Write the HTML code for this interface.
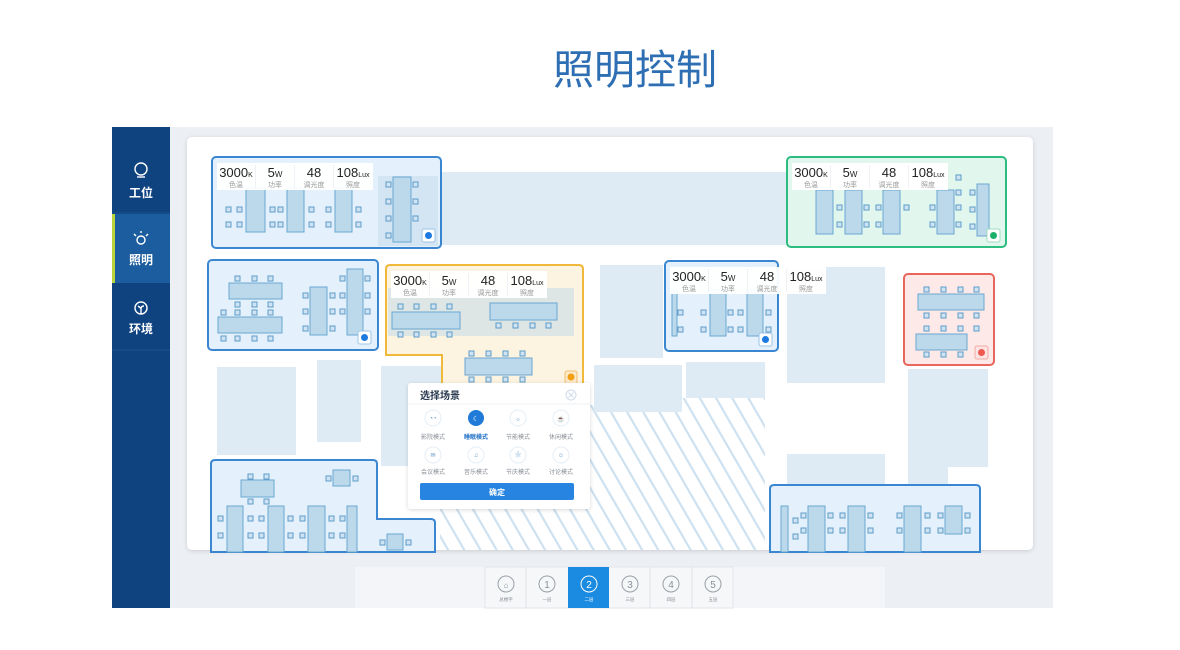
<!DOCTYPE html>
<html><head><meta charset="utf-8"><style>
html,body{margin:0;padding:0;background:#fff;width:1180px;height:650px;overflow:hidden;font-family:"Liberation Sans","Noto Sans CJK SC",sans-serif}
.t{position:absolute;left:553px;top:38px;font-size:41px;color:#2e6fb4;letter-spacing:0;font-family:"Noto Sans CJK SC","WenQuanYi Zen Hei",sans-serif;line-height:56px}
svg{position:absolute;left:0;top:0}
text{font-family:"Liberation Sans","Noto Sans CJK SC",sans-serif}
</style></head><body>
<div class="t">照明控制</div>
<svg width="1180" height="650" viewBox="0 0 1180 650">
<defs>
<pattern id="h" width="14" height="14" patternUnits="userSpaceOnUse" patternTransform="rotate(-30)">
<rect width="14" height="14" fill="#fff"/><rect width="2.2" height="14" fill="#cde1f0"/></pattern>
<filter id="sh" x="-10%" y="-10%" width="120%" height="130%"><feDropShadow dx="0" dy="1" stdDeviation="2" flood-color="#000" flood-opacity="0.15"/></filter>
<g id="tip">
<rect x="0" y="0" width="156" height="27" fill="#fff" opacity="0.95"/>
<g fill="#eef2f6"><rect x="38" y="2" width="1" height="23"/><rect x="77" y="2" width="1" height="23"/><rect x="116" y="2" width="1" height="23"/></g>
<g font-size="13" fill="#222" text-anchor="middle">
<text x="19" y="14">3000<tspan font-size="7">K</tspan></text>
<text x="58" y="14">5<tspan font-size="8">W</tspan></text>
<text x="97" y="14">48</text>
<text x="136" y="14">108<tspan font-size="7">Lux</tspan></text></g>
<g font-size="7" fill="#999" text-anchor="middle" font-family="Noto Sans CJK SC,sans-serif">
<text x="19" y="24">色温</text><text x="58" y="24">功率</text><text x="97" y="24">调光度</text><text x="136" y="24">照度</text></g>
</g>
</defs>
<!-- app frame -->
<rect x="112" y="127" width="941" height="481" fill="#eceff4"/>
<rect x="112" y="127" width="58" height="481" fill="#0e4380"/>
<rect x="112" y="214" width="58" height="69" fill="#1b5d9f"/>
<rect x="112" y="214" width="3" height="69" fill="#b8d43a"/>
<line x1="112" y1="213" x2="170" y2="213" stroke="#1c5190"/>
<line x1="112" y1="350" x2="170" y2="350" stroke="#1c5190"/>
<g fill="none" stroke="#fff" stroke-width="1.4">
<circle cx="141" cy="169" r="6"/><line x1="137" y1="177" x2="145" y2="177"/>
<circle cx="141" cy="240" r="4"/><line x1="134" y1="234" x2="136" y2="236"/><line x1="148" y1="234" x2="146" y2="236"/><line x1="141" y1="231" x2="141" y2="233"/>
<circle cx="141" cy="308" r="6"/><path d="M141 314 v-5 M138 306 q3 2 3 3 q0-3 3-3"/>
</g>
<g fill="#fff" font-size="12" font-weight="bold" text-anchor="middle" font-family="Noto Sans CJK SC,sans-serif">
<text x="141" y="197">工位</text><text x="141" y="264">照明</text><text x="141" y="333">环境</text></g>
<!-- card -->
<rect x="187" y="137" width="846" height="413" rx="5" fill="#fff" filter="url(#sh)"/>
<g fill="#deebf5">
<rect x="441" y="172" width="345" height="73"/>
<rect x="217" y="367" width="79" height="88"/>
<rect x="317" y="360" width="44" height="82"/>
<rect x="381" y="366" width="60" height="100"/>
<rect x="600" y="265" width="63" height="93"/>
<rect x="594" y="365" width="88" height="47"/>
<rect x="686" y="362" width="79" height="36"/>
<rect x="787" y="267" width="98" height="116"/>
<rect x="908" y="369" width="80" height="98"/>
<rect x="787" y="454" width="98" height="40"/>
<rect x="908" y="467" width="40" height="28"/>
</g>
<path d="M440 405 L594 405 L594 412 L682 412 L682 398 L765 398 L765 550 L440 550 Z" fill="url(#h)"/>
<!-- Rooms -->
<rect x="212" y="157" width="229" height="91" rx="4" fill="#e4f1fc" stroke="#3a86d1" stroke-width="2"/>
<rect x="378" y="176" width="60" height="70" fill="#d3e5f3"/>
<rect x="208" y="260" width="170" height="90" rx="4" fill="#e4f1fc" stroke="#3a86d1" stroke-width="2"/>
<path d="M390 265 H579 Q583 265 583 269 V390 H442 V355 H386 V269 Q386 265 390 265 Z" fill="#fdf3e1" stroke="#f0b93a" stroke-width="2"/>
<rect x="388" y="288" width="186" height="48" fill="#dde6e4"/>
<rect x="665" y="261" width="113" height="90" rx="4" fill="#e4f1fc" stroke="#3a86d1" stroke-width="2"/>
<rect x="787" y="157" width="219" height="90" rx="4" fill="#e1f6ed" stroke="#2ebd80" stroke-width="2"/>
<rect x="904" y="274" width="90" height="91" rx="4" fill="#fde9e7" stroke="#e8665c" stroke-width="2"/>
<path d="M215 460 H373 Q377 460 377 464 V519 H431 Q435 519 435 523 V552 H211 V464 Q211 460 215 460 Z" fill="#e4f1fc" stroke="#3a86d1" stroke-width="2"/>
<path d="M774 485 H976 Q980 485 980 489 V552 H770 V489 Q770 485 774 485 Z" fill="#e4f1fc" stroke="#3a86d1" stroke-width="2"/>
<!-- tables -->
<g fill="#bcd9ec" stroke="#6aa6d0" stroke-width="1">
<rect x="246" y="188" width="19" height="44"/><rect x="287" y="188" width="17" height="44"/><rect x="335" y="188" width="17" height="44"/><rect x="393" y="177" width="18" height="65"/>
<rect x="229" y="283" width="53" height="16"/><rect x="218" y="317" width="64" height="16"/><rect x="310" y="287" width="17" height="48"/><rect x="347" y="269" width="16" height="66"/>
<rect x="392" y="312" width="68" height="17"/><rect x="490" y="303" width="67" height="17"/><rect x="465" y="358" width="67" height="17"/>
<rect x="710" y="290" width="16" height="46"/><rect x="747" y="290" width="16" height="46"/><rect x="672" y="290" width="5" height="46"/>
<rect x="816" y="190" width="17" height="44"/><rect x="845" y="190" width="17" height="44"/><rect x="883" y="190" width="17" height="44"/><rect x="937" y="190" width="17" height="44"/><rect x="977" y="184" width="12" height="52"/>
<rect x="918" y="294" width="66" height="16"/><rect x="916" y="334" width="51" height="16"/>
<rect x="241" y="480" width="33" height="17"/><rect x="333" y="470" width="17" height="16"/>
<rect x="227" y="506" width="16" height="46"/><rect x="268" y="506" width="16" height="46"/><rect x="308" y="506" width="17" height="46"/><rect x="347" y="506" width="10" height="46"/><rect x="387" y="534" width="16" height="16"/>
<rect x="781" y="506" width="7" height="46"/><rect x="808" y="506" width="17" height="46"/><rect x="848" y="506" width="17" height="46"/><rect x="904" y="506" width="17" height="46"/><rect x="945" y="506" width="17" height="28"/>
</g>
<g fill="#cfe3f2" stroke="#5c9cc9" stroke-width="1">
<rect x="226" y="207" width="5" height="5"/><rect x="226" y="222" width="5" height="5"/><rect x="237" y="207" width="5" height="5"/><rect x="237" y="222" width="5" height="5"/><rect x="270" y="207" width="5" height="5"/><rect x="270" y="222" width="5" height="5"/><rect x="278" y="207" width="5" height="5"/><rect x="278" y="222" width="5" height="5"/><rect x="309" y="207" width="5" height="5"/><rect x="309" y="222" width="5" height="5"/><rect x="326" y="207" width="5" height="5"/><rect x="326" y="222" width="5" height="5"/><rect x="356" y="207" width="5" height="5"/><rect x="356" y="222" width="5" height="5"/>
<rect x="386" y="182" width="5" height="5"/><rect x="386" y="199" width="5" height="5"/><rect x="386" y="216" width="5" height="5"/><rect x="386" y="233" width="5" height="5"/><rect x="413" y="182" width="5" height="5"/><rect x="413" y="199" width="5" height="5"/><rect x="413" y="216" width="5" height="5"/>
<rect x="235" y="276" width="5" height="5"/><rect x="252" y="276" width="5" height="5"/><rect x="268" y="276" width="5" height="5"/><rect x="235" y="302" width="5" height="5"/><rect x="252" y="302" width="5" height="5"/><rect x="268" y="302" width="5" height="5"/><rect x="221" y="310" width="5" height="5"/><rect x="235" y="310" width="5" height="5"/><rect x="252" y="310" width="5" height="5"/><rect x="268" y="310" width="5" height="5"/><rect x="221" y="336" width="5" height="5"/><rect x="235" y="336" width="5" height="5"/><rect x="252" y="336" width="5" height="5"/><rect x="268" y="336" width="5" height="5"/>
<rect x="303" y="293" width="5" height="5"/><rect x="303" y="309" width="5" height="5"/><rect x="303" y="326" width="5" height="5"/><rect x="330" y="293" width="5" height="5"/><rect x="330" y="309" width="5" height="5"/><rect x="330" y="326" width="5" height="5"/><rect x="340" y="276" width="5" height="5"/><rect x="340" y="293" width="5" height="5"/><rect x="340" y="309" width="5" height="5"/><rect x="365" y="276" width="5" height="5"/><rect x="365" y="293" width="5" height="5"/><rect x="365" y="309" width="5" height="5"/>
<rect x="398" y="304" width="5" height="5"/><rect x="414" y="304" width="5" height="5"/><rect x="431" y="304" width="5" height="5"/><rect x="447" y="304" width="5" height="5"/><rect x="398" y="332" width="5" height="5"/><rect x="414" y="332" width="5" height="5"/><rect x="431" y="332" width="5" height="5"/><rect x="447" y="332" width="5" height="5"/>
<rect x="496" y="323" width="5" height="5"/><rect x="513" y="323" width="5" height="5"/><rect x="530" y="323" width="5" height="5"/><rect x="546" y="323" width="5" height="5"/>
<rect x="469" y="351" width="5" height="5"/><rect x="486" y="351" width="5" height="5"/><rect x="503" y="351" width="5" height="5"/><rect x="520" y="351" width="5" height="5"/><rect x="469" y="377" width="5" height="5"/><rect x="486" y="377" width="5" height="5"/><rect x="503" y="377" width="5" height="5"/><rect x="520" y="377" width="5" height="5"/>
<rect x="678" y="310" width="5" height="5"/><rect x="678" y="327" width="5" height="5"/><rect x="701" y="310" width="5" height="5"/><rect x="701" y="327" width="5" height="5"/><rect x="728" y="310" width="5" height="5"/><rect x="738" y="310" width="5" height="5"/><rect x="728" y="327" width="5" height="5"/><rect x="738" y="327" width="5" height="5"/><rect x="766" y="310" width="5" height="5"/><rect x="766" y="327" width="5" height="5"/>
<rect x="837" y="205" width="5" height="5"/><rect x="837" y="222" width="5" height="5"/><rect x="864" y="205" width="5" height="5"/><rect x="864" y="222" width="5" height="5"/><rect x="876" y="205" width="5" height="5"/><rect x="876" y="222" width="5" height="5"/><rect x="904" y="205" width="5" height="5"/><rect x="930" y="205" width="5" height="5"/><rect x="930" y="222" width="5" height="5"/><rect x="956" y="175" width="5" height="5"/><rect x="956" y="190" width="5" height="5"/><rect x="956" y="205" width="5" height="5"/><rect x="956" y="222" width="5" height="5"/><rect x="970" y="190" width="5" height="5"/><rect x="970" y="207" width="5" height="5"/><rect x="970" y="224" width="5" height="5"/>
<rect x="924" y="287" width="5" height="5"/><rect x="941" y="287" width="5" height="5"/><rect x="958" y="287" width="5" height="5"/><rect x="974" y="287" width="5" height="5"/><rect x="924" y="313" width="5" height="5"/><rect x="941" y="313" width="5" height="5"/><rect x="958" y="313" width="5" height="5"/><rect x="974" y="313" width="5" height="5"/><rect x="924" y="326" width="5" height="5"/><rect x="941" y="326" width="5" height="5"/><rect x="958" y="326" width="5" height="5"/><rect x="974" y="326" width="5" height="5"/><rect x="924" y="352" width="5" height="5"/><rect x="941" y="352" width="5" height="5"/><rect x="958" y="352" width="5" height="5"/>
<rect x="248" y="474" width="5" height="5"/><rect x="264" y="474" width="5" height="5"/><rect x="248" y="499" width="5" height="5"/><rect x="264" y="499" width="5" height="5"/><rect x="326" y="476" width="5" height="5"/><rect x="353" y="476" width="5" height="5"/>
<rect x="218" y="516" width="5" height="5"/><rect x="218" y="533" width="5" height="5"/><rect x="248" y="516" width="5" height="5"/><rect x="259" y="516" width="5" height="5"/><rect x="248" y="533" width="5" height="5"/><rect x="259" y="533" width="5" height="5"/><rect x="288" y="516" width="5" height="5"/><rect x="300" y="516" width="5" height="5"/><rect x="288" y="533" width="5" height="5"/><rect x="300" y="533" width="5" height="5"/><rect x="329" y="516" width="5" height="5"/><rect x="340" y="516" width="5" height="5"/><rect x="329" y="533" width="5" height="5"/><rect x="340" y="533" width="5" height="5"/><rect x="380" y="540" width="5" height="5"/><rect x="406" y="540" width="5" height="5"/>
<rect x="793" y="518" width="5" height="5"/><rect x="793" y="534" width="5" height="5"/><rect x="801" y="513" width="5" height="5"/><rect x="801" y="528" width="5" height="5"/><rect x="828" y="513" width="5" height="5"/><rect x="828" y="528" width="5" height="5"/><rect x="840" y="513" width="5" height="5"/><rect x="840" y="528" width="5" height="5"/><rect x="868" y="513" width="5" height="5"/><rect x="868" y="528" width="5" height="5"/><rect x="897" y="513" width="5" height="5"/><rect x="897" y="528" width="5" height="5"/><rect x="925" y="513" width="5" height="5"/><rect x="925" y="528" width="5" height="5"/><rect x="938" y="513" width="5" height="5"/><rect x="938" y="528" width="5" height="5"/><rect x="965" y="513" width="5" height="5"/><rect x="965" y="528" width="5" height="5"/>
</g>
<rect x="422" y="229" width="13" height="13" rx="2" fill="#fff" stroke="#9cc3e4"/><circle cx="428.5" cy="235.5" r="3.5" fill="#1e7ae0"/>
<rect x="358" y="331" width="13" height="13" rx="2" fill="#fff" stroke="#9cc3e4"/><circle cx="364.5" cy="337.5" r="3.5" fill="#1e7ae0"/>
<rect x="759" y="333" width="13" height="13" rx="2" fill="#fff" stroke="#9cc3e4"/><circle cx="765.5" cy="339.5" r="3.5" fill="#1e7ae0"/>
<rect x="987" y="229" width="13" height="13" rx="2" fill="#fff" stroke="#9fdcc0"/><circle cx="993.5" cy="235.5" r="3.5" fill="#1ab06a"/>
<rect x="975" y="346" width="13" height="13" rx="2" fill="#fde3e1" stroke="#f0aaa4"/><circle cx="981.5" cy="352.5" r="3.5" fill="#ee5a50"/>
<rect x="565" y="371" width="12" height="13" rx="2" fill="#fde8c8" stroke="#f0c070"/><circle cx="571" cy="377" r="3.5" fill="#f2a012"/>
<use href="#tip" x="217" y="163"/>
<use href="#tip" x="391" y="271"/>
<use href="#tip" x="670" y="267"/>
<use href="#tip" x="792" y="163"/>
<!-- popup -->
<rect x="408" y="383" width="182" height="126" rx="3" fill="#fff" filter="url(#sh)"/>
<line x1="408" y1="404" x2="590" y2="404" stroke="#eceff3"/>
<text x="420" y="399" font-size="10" fill="#2a3a50" font-weight="bold" font-family="Noto Sans CJK SC,sans-serif">选择场景</text>
<circle cx="571" cy="395" r="5" fill="none" stroke="#ccdbe8"/><path d="M568.5 392.5 l5 5 M573.5 392.5 l-5 5" stroke="#ccdbe8"/>
<g fill="#fff" stroke="#e5eef6">
<circle cx="433" cy="418" r="8"/><circle cx="518" cy="418" r="8"/><circle cx="561" cy="418" r="8"/>
<circle cx="433" cy="455" r="8"/><circle cx="476" cy="455" r="8"/><circle cx="518" cy="455" r="8"/><circle cx="561" cy="455" r="8"/></g>
<circle cx="476" cy="418" r="8" fill="#1f7ad8"/>
<g font-size="6" fill="#5b95c9" text-anchor="middle"><text x="433" y="420">◔◔</text><text x="518" y="421">☼</text><text x="561" y="421">☕</text><text x="433" y="457">✉</text><text x="476" y="457">♫</text><text x="518" y="457">❀</text><text x="561" y="457">☺</text></g>
<text x="476" y="421" font-size="7" fill="#fff" text-anchor="middle">☾</text>
<g font-size="6" fill="#8a8f96" text-anchor="middle" font-family="Noto Sans CJK SC,sans-serif">
<text x="433" y="439">影院模式</text><text x="476" y="439" fill="#1f6fc8" font-weight="bold">睡眠模式</text><text x="518" y="439">节能模式</text><text x="561" y="439">休闲模式</text>
<text x="433" y="474">会议模式</text><text x="476" y="474">音乐模式</text><text x="518" y="474">节庆模式</text><text x="561" y="474">讨论模式</text></g>
<rect x="420" y="483" width="154" height="17" rx="2" fill="#2784e0"/>
<text x="497" y="495" font-size="8" fill="#fff" text-anchor="middle" font-weight="bold" font-family="Noto Sans CJK SC,sans-serif">确定</text>
<!-- floor tabs -->
<rect x="355" y="567" width="530" height="41" fill="#f3f5f8"/>
<rect x="485" y="567" width="248" height="41" fill="#f6f7f9" stroke="#e2e5ea"/>
<rect x="568" y="567" width="41" height="41" fill="#1a8be0"/>
<g stroke="#dfe3e8"><line x1="526" y1="567" x2="526" y2="608"/><line x1="650" y1="567" x2="650" y2="608"/><line x1="692" y1="567" x2="692" y2="608"/></g>
<g fill="none" stroke="#9aa0a8"><circle cx="506" cy="584" r="8"/><circle cx="547" cy="584" r="8"/><circle cx="630" cy="584" r="8"/><circle cx="671" cy="584" r="8"/><circle cx="713" cy="584" r="8"/></g>
<circle cx="589" cy="584" r="8" fill="none" stroke="#fff"/>
<g font-size="10" text-anchor="middle" fill="#8a9099"><text x="506" y="588" font-size="8">⌂</text><text x="547" y="588">1</text><text x="630" y="588">3</text><text x="671" y="588">4</text><text x="713" y="588">5</text></g>
<text x="589" y="588" font-size="10" text-anchor="middle" fill="#fff">2</text>
<g font-size="4.5" text-anchor="middle" fill="#8a9099" font-family="Noto Sans CJK SC,sans-serif"><text x="506" y="601">总楼宇</text><text x="547" y="601">一层</text><text x="630" y="601">三层</text><text x="671" y="601">四层</text><text x="713" y="601">五层</text></g>
<text x="589" y="601" font-size="4.5" text-anchor="middle" fill="#fff" font-family="Noto Sans CJK SC,sans-serif">二层</text>
</svg>
</body></html>
